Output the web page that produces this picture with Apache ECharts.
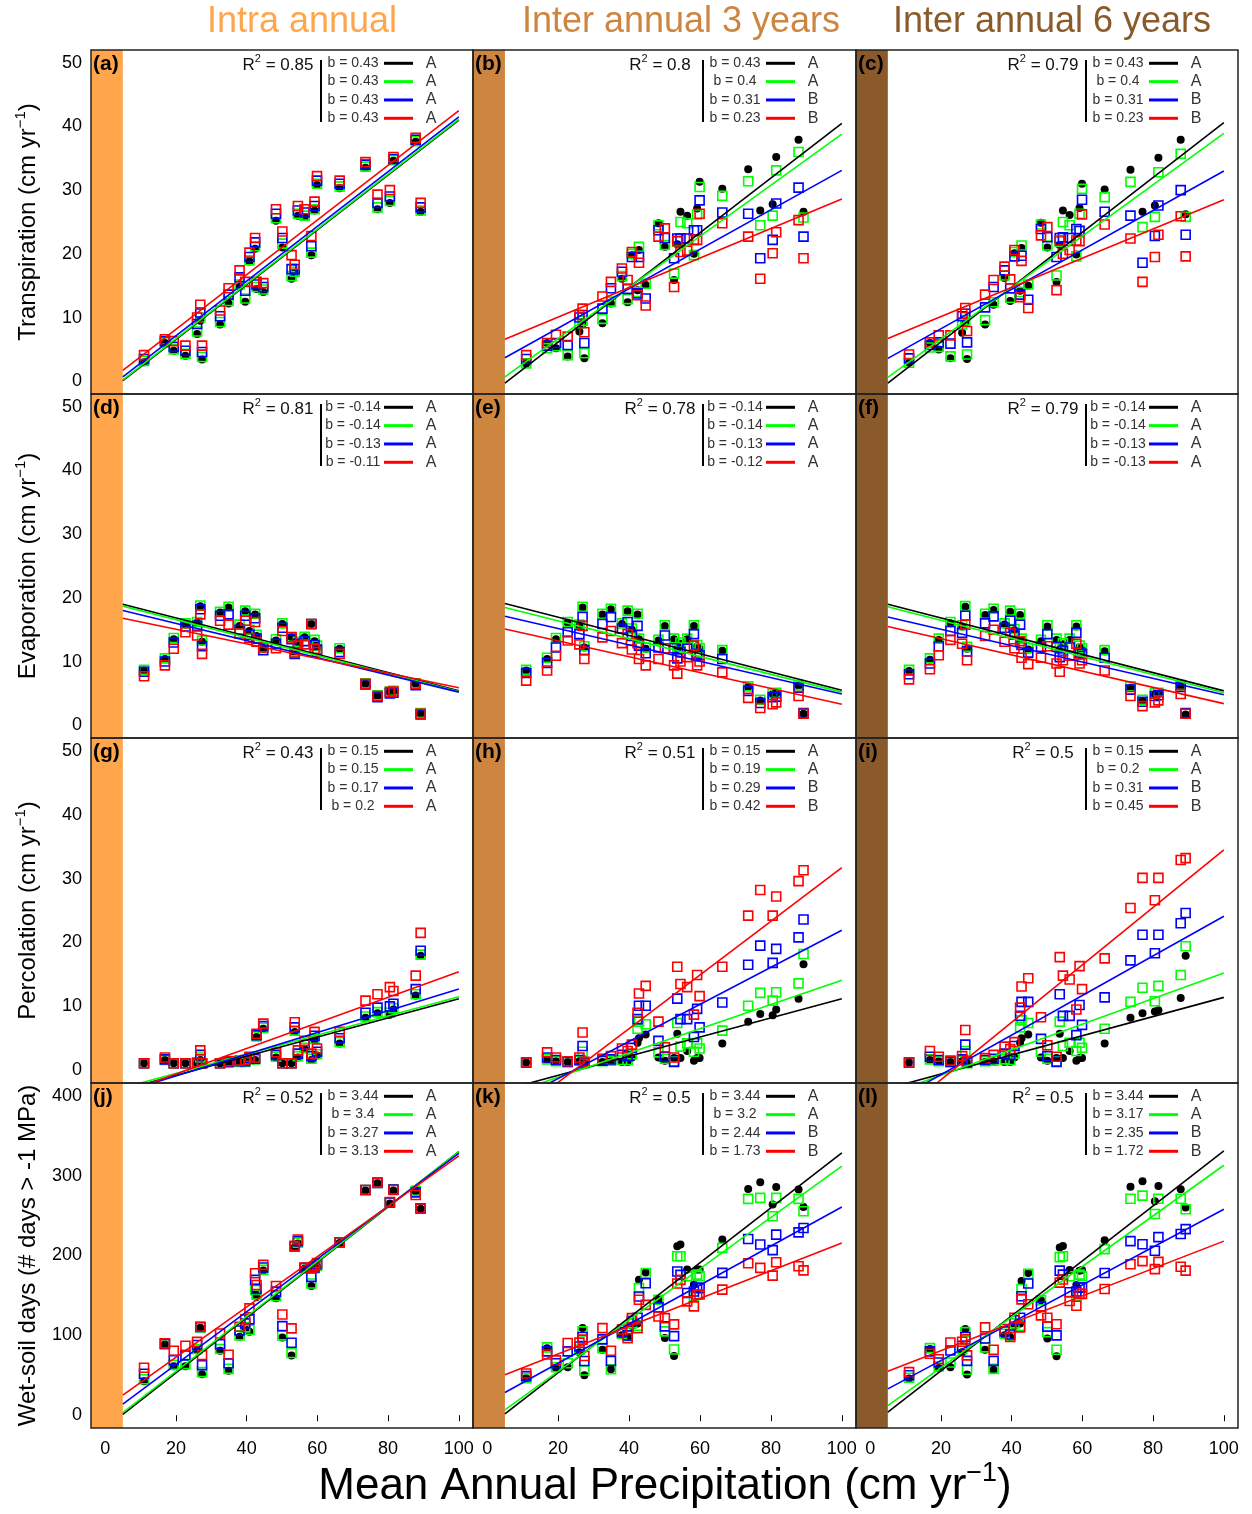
<!DOCTYPE html>
<html><head><meta charset="utf-8">
<script src="https://cdn.jsdelivr.net/npm/echarts@6/dist/echarts.min.js"></script>
<style>html,body{margin:0;padding:0;background:#fff}#chart{width:1252px;height:1514px}</style>
</head><body><div id="chart"></div>
<script>
// ---------------- DATA ----------------
// Mean annual precipitation of the sites (cm/yr), shared by all panels
const X_SITES = [11.0,16.9,19.4,22.7,26.0,26.9,27.4,32.5,34.9,38.0,39.6,40.8,42.4,42.8,44.7,48.3,50.1,52.7,53.6,54.5,56.4,58.3,59.2,59.9,66.3,73.6,77.0,80.5,81.5,87.8,89.2];
const XTICKS = [0,20,40,60,80,100];
const YTICKS_CM = [0,10,20,30,40,50];
const YTICKS_DAYS = [0,100,200,300,400];
const COL_TITLES = ['Intra annual','Inter annual 3 years','Inter annual 6 years'];
const ROW_TITLES = ['Transpiration','Evaporation','Percolation','Wet-soil days (# days > -1 MPa)'];
const X_TITLE = 'Mean Annual Precipitation (cm yr';
const PANEL_LABELS = ['(a)','(b)','(c)','(d)','(e)','(f)','(g)','(h)','(i)','(j)','(k)','(l)'];
const R2 = ['0.85','0.8','0.79','0.81','0.78','0.79','0.43','0.51','0.5','0.52','0.5','0.5'];
const SLOPES = [
  ['0.43','0.43','0.43','0.43'],['0.43','0.4','0.31','0.23'],['0.43','0.4','0.31','0.23'],
  ['-0.14','-0.14','-0.13','-0.11'],['-0.14','-0.14','-0.13','-0.12'],['-0.14','-0.14','-0.13','-0.13'],
  ['0.15','0.15','0.17','0.2'],['0.15','0.19','0.29','0.42'],['0.15','0.2','0.31','0.45'],
  ['3.44','3.4','3.27','3.13'],['3.44','3.2','2.44','1.73'],['3.44','3.17','2.35','1.72']
];
const GROUPS = [
  ['A','A','A','A'],['A','A','B','B'],['A','A','B','B'],
  ['A','A','A','A'],['A','A','A','A'],['A','A','A','A'],
  ['A','A','A','A'],['A','A','B','B'],['A','A','B','B'],
  ['A','A','A','A'],['A','A','B','B'],['A','A','B','B']
];
// Regression line values at MAP = 5 and MAP = 100, order: black, green, blue, red
const LINE_AT = [5, 100];
const a_lines = [[0.1,41.0],[0.2,41.1],[0.7,41.5],[1.7,42.5]];
const b_lines = [[-0.3,40.5],[0.7,38.8],[3.7,33.1],[6.6,28.6]];
const c_lines = [[-0.3,40.6],[0.6,38.9],[3.6,33.0],[6.7,28.5]];
const d_lines = [[19.0,5.4],[18.7,5.3],[18.0,5.2],[16.8,5.9]];
const e_lines = [[19.1,5.5],[18.5,5.2],[17.1,4.9],[15.1,3.3]];
const f_lines = [[19.0,5.4],[18.6,5.1],[17.0,4.8],[15.5,3.4]];
const g_lines = [[-3.05,11.2],[-2.75,11.5],[-3.45,12.7],[-3.6,15.4]];
const h_lines = [[-3.05,11.2],[-3.95,14.1],[-5.65,21.9],[-8.2,31.7]];
const i_lines = [[-2.85,11.4],[-3.8,15.2],[-5.35,24.1],[-8.25,34.5]];
const j_lines = [[1.2,330],[3.3,330],[13.9,328],[25.1,324.7]];
const k_lines = [[1.7,328.5],[6.7,311.8],[28.4,260.8],[50.6,215.6]];
const l_lines = [[4,331],[12,313],[33,258],[55,218]];

// Transpiration
const a_black = [3.0,6.0,4.8,4.0,7.4,9.5,3.4,8.9,12.2,14.8,12.5,18.8,20.8,14.5,14.0,25.2,21.0,16.1,17.0,26.0,25.8,19.8,26.8,30.8,30.3,33.5,27.0,28.0,34.6,37.6,26.6];
const a_green = [3.2,6.1,5.0,4.3,7.8,10.0,3.8,9.3,12.6,15.2,13.0,19.0,21.2,14.8,14.4,25.6,21.6,16.5,17.2,26.3,26.0,20.2,27.0,31.0,30.6,33.7,27.3,28.3,34.7,37.7,26.8];
const a_blue  = [3.5,6.3,5.4,4.8,9.0,10.8,4.6,10.2,13.6,16.3,14.2,19.5,21.8,15.2,14.8,26.3,22.5,17.6,17.6,26.8,26.5,21.2,27.5,31.5,31.0,34.0,28.0,29.0,34.9,37.9,27.3];
const a_red   = [4.1,6.6,6.3,5.6,10.0,12.0,5.6,11.1,14.6,17.4,15.6,20.2,22.5,15.6,15.4,27.0,23.5,19.8,18.3,27.5,27.0,22.8,28.2,32.2,31.5,34.4,29.3,30.0,35.2,38.2,28.0];
const b_black = [2.8,6.0,5.2,3.9,7.8,9.0,3.6,9.1,12.2,16.1,12.4,19.8,14.3,20.6,15.1,24.8,21.1,15.9,21.5,26.6,26.0,20.0,27.1,31.3,30.2,33.3,26.8,27.8,35.2,37.9,26.6];
const b_green = [2.8,5.2,5.5,4.1,9.1,9.5,4.4,9.8,12.5,16.5,12.9,20.0,14.0,21.1,15.3,24.5,21.4,16.9,22.0,25.0,24.8,19.8,26.2,30.5,29.1,31.4,24.5,26.0,33.1,36.0,25.7];
const b_blue  = [3.5,5.6,6.0,5.7,10.0,10.4,6.0,11.4,14.6,17.2,14.5,19.5,13.8,19.5,13.0,23.7,22.5,19.3,22.4,22.4,22.4,23.7,23.7,28.4,26.5,26.3,19.3,22.2,27.9,30.4,22.7];
const b_red   = [4.1,6.0,7.3,7.0,10.4,11.4,7.7,13.3,15.6,17.7,15.9,20.3,13.5,18.6,11.9,22.7,24.0,14.8,22.0,20.3,20.5,22.2,22.2,26.3,24.8,22.7,16.1,20.1,23.4,25.3,19.3];
const c_black = [2.9,6.0,5.0,3.6,7.6,9.2,3.5,8.9,12.0,16.2,12.6,20.1,14.2,20.9,15.0,24.9,21.0,15.6,21.4,26.8,26.1,19.9,27.2,31.0,30.1,33.2,26.6,27.6,35.1,37.9,26.2];
const c_green = [2.9,5.3,5.4,3.9,8.9,9.6,4.2,9.6,12.4,16.6,13.1,20.3,14.0,21.3,15.2,24.6,21.3,16.6,21.9,25.0,24.5,19.6,26.3,30.2,28.9,31.3,24.2,25.8,32.8,35.7,25.8];
const c_blue  = [3.6,5.7,6.1,5.9,10.2,10.6,6.1,11.6,14.8,17.4,14.6,19.6,13.6,19.7,12.8,23.9,22.6,19.5,22.5,22.6,22.5,23.9,23.6,28.5,26.6,26.0,18.6,22.8,27.6,30.0,23.0];
const c_red   = [4.2,6.1,7.2,7.2,10.6,11.5,7.9,13.6,15.9,18.0,16.0,20.6,13.2,18.9,11.5,22.9,24.2,14.3,22.1,20.0,20.6,22.1,22.0,26.2,24.6,22.4,15.6,19.5,23.0,25.9,19.6];
// Evaporation
const d_black = [8.6,10.4,13.5,15.9,16.1,18.7,13.1,17.7,18.5,15.6,17.9,14.8,17.4,14.0,12.0,13.3,15.9,13.8,11.4,13.0,13.8,15.9,13.2,12.3,12.0,6.5,4.6,5.2,5.3,6.5,1.8];
const d_green = [8.7,10.5,13.7,16.0,16.2,18.8,13.3,17.8,18.6,15.8,18.0,15.0,17.5,14.2,12.2,13.5,16.0,13.9,11.6,13.1,13.9,15.9,13.4,12.5,12.1,6.6,4.7,5.3,5.4,6.6,1.9];
const d_blue  = [8.4,10.0,13.0,15.5,15.6,18.2,12.4,17.2,17.4,15.0,17.2,14.2,16.8,13.6,11.8,12.8,15.3,13.5,11.2,12.8,13.2,15.9,12.6,11.9,11.5,6.4,4.4,5.0,5.1,6.3,1.7];
const d_red   = [7.7,9.4,12.0,14.6,14.1,17.4,11.2,16.4,15.8,14.4,16.4,13.7,16.2,13.1,12.2,12.1,14.8,13.8,11.4,12.5,12.7,15.9,12.0,11.5,11.2,6.5,4.6,5.2,5.3,6.5,1.8];
const e_black = [8.6,10.4,13.5,16.1,15.6,18.5,12.2,17.4,18.2,15.9,17.9,15.0,17.4,13.5,12.0,13.3,15.6,13.5,12.0,12.8,13.5,15.6,12.4,12.0,11.7,6.0,3.9,4.9,5.0,6.2,1.8];
const e_green = [8.7,10.6,13.7,16.2,15.8,18.6,12.4,17.5,18.3,16.0,18.0,15.2,17.5,13.6,12.2,13.4,15.7,13.6,12.2,13.0,13.6,15.7,12.6,12.1,11.8,6.1,4.0,5.0,5.1,6.3,1.8];
const e_blue  = [8.2,9.8,12.2,14.6,14.3,17.0,11.8,15.9,17.0,15.2,16.2,14.0,15.6,12.5,11.3,12.2,14.1,12.1,10.5,11.5,12.0,14.3,11.2,11.0,10.4,5.4,3.5,4.4,4.5,5.9,1.9];
const e_red   = [7.0,8.6,10.9,13.3,12.7,15.6,10.4,13.8,14.8,12.9,14.3,11.9,12.9,10.4,9.4,10.4,12.1,9.4,8.1,10.0,10.7,12.5,9.4,10.0,8.3,4.3,2.7,3.3,3.6,4.6,1.8];
const f_black = [8.5,10.3,13.4,16.0,15.5,18.6,12.0,17.3,18.1,15.8,17.8,14.9,17.3,13.4,11.9,13.2,15.5,13.4,11.9,12.7,13.4,15.5,12.3,11.9,11.6,5.9,3.8,4.8,4.9,6.1,1.7];
const f_green = [8.7,10.5,13.6,16.2,15.7,18.7,12.3,17.5,18.3,16.0,18.0,15.1,17.5,13.6,12.1,13.4,15.7,13.6,12.1,12.9,13.6,15.7,12.5,12.1,11.8,6.1,4.0,5.0,5.1,6.3,1.8];
const f_blue  = [8.0,9.7,12.4,14.8,14.5,17.2,11.6,16.0,17.1,15.3,16.4,14.2,15.8,12.6,11.4,12.3,14.3,12.3,10.7,11.7,12.2,14.5,11.4,11.2,10.6,5.6,3.7,4.6,4.7,6.0,1.9];
const f_red   = [7.2,8.8,11.0,13.4,12.8,15.8,10.2,14.0,15.0,13.1,14.5,12.1,13.2,10.6,9.6,10.6,12.4,9.7,8.4,10.2,10.9,12.8,9.7,10.2,8.6,4.6,3.0,3.6,3.9,4.9,1.8];
// Percolation
const g_black = [1.1,1.6,1.1,1.1,1.1,1.6,1.1,1.1,1.2,1.3,1.3,1.6,1.6,5.2,6.5,2.0,1.1,1.1,6.0,2.0,3.3,1.6,4.7,2.3,4.2,8.2,8.9,8.7,9.5,11.7,17.9];
const g_green = [1.1,1.6,1.1,1.1,1.1,2.0,1.1,1.1,1.2,1.3,1.3,1.7,1.7,5.3,6.6,2.1,1.1,1.1,6.2,2.2,3.5,1.8,4.9,2.5,4.4,8.4,9.1,9.0,9.7,11.9,18.1];
const g_blue  = [1.1,1.7,1.1,1.1,1.1,2.4,1.1,1.1,1.3,1.4,1.4,1.9,1.8,5.5,6.9,2.4,1.1,1.1,6.7,2.6,4.0,2.2,5.4,2.9,5.0,9.0,9.8,10.0,10.4,12.7,18.7];
const g_red   = [1.1,2.0,1.1,1.1,1.2,3.1,1.1,1.1,1.4,1.5,1.6,2.1,2.0,5.7,7.3,2.8,1.1,1.1,7.5,3.1,4.6,2.6,6.0,3.4,6.0,10.9,11.9,13.0,12.4,14.8,21.5];
const h_black = [1.2,1.6,1.4,1.3,1.4,1.8,1.1,1.3,1.4,1.3,1.3,2.0,4.3,5.0,5.6,2.0,1.5,1.9,5.7,1.9,3.0,1.5,1.9,1.9,4.2,7.6,8.8,8.6,9.5,11.2,16.6];
const h_green = [1.2,1.7,1.4,1.3,1.5,2.9,1.1,1.4,1.5,1.6,1.6,2.5,6.5,7.6,7.2,2.8,1.8,1.4,7.4,3.7,4.2,2.9,4.2,3.4,6.2,10.1,12.1,10.9,12.2,13.6,18.2];
const h_blue  = [1.2,2.0,1.6,1.3,1.6,3.8,1.2,1.5,1.7,2.4,2.2,3.5,8.0,10.1,10.1,4.6,2.1,1.3,11.2,8.0,8.0,5.2,9.6,6.7,10.6,16.5,19.5,16.8,19.0,20.8,23.6];
const h_red   = [1.2,2.8,2.0,1.4,2.0,5.9,1.3,1.8,2.2,3.4,3.0,4.0,9.0,12.0,13.2,7.6,3.6,2.0,16.2,13.5,13.0,8.7,14.9,11.6,16.2,24.2,28.2,24.2,27.2,29.6,31.3];
const i_black = [1.2,1.6,1.4,1.3,1.4,1.8,1.1,1.3,1.4,1.3,1.3,2.0,4.3,5.0,5.6,2.0,1.5,1.9,5.7,1.9,3.0,1.5,1.9,1.9,4.2,8.2,8.9,9.2,9.4,11.3,17.9];
const i_green = [1.2,1.7,1.4,1.3,1.5,3.0,1.1,1.4,1.5,1.7,1.6,2.6,6.7,7.8,7.4,2.9,1.8,1.4,7.6,3.8,4.3,3.0,4.3,3.5,6.5,10.7,12.9,10.8,13.2,14.9,19.4];
const i_blue  = [1.2,2.1,1.6,1.3,1.7,4.0,1.2,1.6,1.8,2.6,2.4,3.8,8.5,10.7,10.7,4.9,2.2,1.3,11.9,8.5,8.5,5.5,10.2,7.1,11.4,17.2,21.2,18.3,21.2,23.0,24.6];
const i_red   = [1.2,3.0,2.1,1.5,2.2,6.3,1.4,1.9,2.4,3.7,3.3,4.4,9.8,13.1,14.4,8.3,3.9,2.1,17.7,14.8,14.2,9.5,16.3,12.7,17.5,25.4,30.1,26.6,30.1,32.9,33.2];
// Wet-soil days
const j_black = [42.6,88.5,61.4,61.4,81.5,109.5,51.4,80.7,55.6,98.3,108,104.6,152.7,148,181.1,146.4,97.4,74.8,210.8,215,183.5,161.9,183,186,215.5,281.5,290.5,265,281.5,280,258.5];
const j_green = [45,89,63,64,83,110,54,83,58,100,110,107,157,151,182,149,100,78,211,216,184,165,184,187,216,282,291,266,283,281,259];
const j_blue  = [52,89.4,69,75,88,110.5,62.7,89,65,106,115,120,169.5,158,185,154.8,111.6,90.7,211.5,218,184.5,173.2,185,189,216.5,282,291,266.5,282.5,279,259];
const j_red   = [59.5,90,80.7,86.9,91.9,110.8,75.3,102.4,75.7,110.8,120,133.8,177.8,163,188.2,161.9,126.2,108.7,212,220,185,183.9,186.4,190.6,216.6,282.1,291.3,267,282.1,275.8,258.8];
const k_black = [46.4,83.9,58.8,60,78.7,109.1,50.2,81.9,57.5,100,98,112,115,169.5,178.7,144.5,96.6,74.1,211.7,213.8,182.4,163.6,182.4,182.4,220,283.4,291.8,263.8,285.9,282.6,260.8];
const k_green = [46.4,85,60,65,82,105,56,84,57.5,102,100,115,112,159.1,178,144.5,105,82.3,199.1,199.1,174,148.9,176.1,174,209.6,270.9,272.1,249.2,272.1,270.9,255.4];
const k_blue  = [49,80,65,80,86,98,67.9,95,67.9,104,100,118,122,148.6,165.3,135,111.2,99.1,180,175.8,153.1,155,160,159.2,178.2,220.6,213.8,206.7,226.1,229,234.5];
const k_red   = [52.3,76.1,68.7,90.5,90.9,94.7,74.1,109.1,80.7,107.4,96.6,121.6,109.1,144.5,138.2,123.7,121.6,113.7,165,169.5,142.6,136.3,151.1,151.1,157.3,190.3,184.5,174.8,191.5,186.5,181.4];
const l_black = [46,83,59,60,79,108,51,82,57,100,98,112,115,168,178,144,96,74,210,212,182,163,181,182,219,286,293,268,287,283,260];
const l_green = [47,84,61,66,83,104,57,85,58,102,100,115,112,158,177,144,104,82,198,199,174,149,176,174,208,271,275,252,271,271,258];
const l_blue  = [50,80,66,81,87,98,68,96,68,105,101,119,122,149,165,136,111,100,181,176,154,155,160,160,178,218,214,206,223,227,233];
const l_red   = [54,77,70,91,92,95,75,110,82,108,98,122,110,145,139,125,122,114,166,170,143,137,152,152,158,189,193,183,192,186,181];

// ---------------- LAYOUT / STYLE ----------------
const FONT = "'Liberation Sans', Arial, Helvetica, sans-serif";
const GL = [91, 473, 856], GW = [382, 383, 382];
const GT = [50, 394, 738, 1083], GH = [344, 344, 345, 345];
const SER_COLORS = ['#000000', '#00FF00', '#0000FF', '#FF0000'];
const BAND_COLORS = ['#FFA64D', '#CD853F', '#8B5A2B'];

const PANELS = [
  [[a_black,a_green,a_blue,a_red], a_lines],
  [[b_black,b_green,b_blue,b_red], b_lines],
  [[c_black,c_green,c_blue,c_red], c_lines],
  [[d_black,d_green,d_blue,d_red], d_lines],
  [[e_black,e_green,e_blue,e_red], e_lines],
  [[f_black,f_green,f_blue,f_red], f_lines],
  [[g_black,g_green,g_blue,g_red], g_lines],
  [[h_black,h_green,h_blue,h_red], h_lines],
  [[i_black,i_green,i_blue,i_red], i_lines],
  [[j_black,j_green,j_blue,j_red], j_lines],
  [[k_black,k_green,k_blue,k_red], k_lines],
  [[l_black,l_green,l_blue,l_red], l_lines]
];

const grids = [], xAxes = [], yAxes = [], series = [], gfx = [];

function txt(x, y, text, st, extra) {
  return Object.assign({
    type: 'text', x: x, y: y, z: 120, silent: true,
    style: Object.assign({
      text: text, fill: '#000', fontFamily: FONT, fontSize: 14,
      align: 'center', verticalAlign: 'middle',
      textAlign: 'center', textVerticalAlign: 'middle'
    }, st)
  }, extra || {});
}

for (let p = 0; p < 12; p++) {
  const r = Math.floor(p / 3), c = p % 3;
  const isDays = r === 3;
  const ymin = isDays ? -16 : -2, ymax = isDays ? 416 : 52;
  const yt = isDays ? YTICKS_DAYS : YTICKS_CM;
  grids.push({ left: GL[c], top: GT[r], width: GW[c], height: GH[r], containLabel: false, show: false });
  xAxes.push({
    gridIndex: p, type: 'value', min: -4, max: 104,
    axisLine: { show: false }, splitLine: { show: false },
    axisTick: { show: r === 3, customValues: XTICKS, length: 6, lineStyle: { color: '#000', width: 1 } },
    axisLabel: { show: r === 3, customValues: XTICKS, fontSize: 18, color: '#000', fontFamily: FONT, margin: 12 }
  });
  yAxes.push({
    gridIndex: p, type: 'value', min: ymin, max: ymax,
    axisLine: { show: false }, splitLine: { show: false },
    axisTick: { show: true, customValues: yt, length: 6, lineStyle: { color: '#000', width: 1 } },
    axisLabel: { show: c === 0, customValues: yt, fontSize: 18, color: '#000', fontFamily: FONT, margin: 9 }
  });

  const pts = PANELS[p][0], lines = PANELS[p][1];
  // points
  for (let s = 0; s < 4; s++) {
    const data = X_SITES.map((x, i) => [x, pts[s][i]]);
    const ser = {
      type: 'scatter', xAxisIndex: p, yAxisIndex: p, data: data, silent: true, z: 2,
      symbol: s === 0 ? 'circle' : 'rect', symbolSize: s === 0 ? 8 : 9,
      itemStyle: s === 0 ? { color: '#000', opacity: 1 } : { color: 'rgba(0,0,0,0)', borderColor: SER_COLORS[s], borderWidth: 1.6, opacity: 1 }
    };
    if (s === 0) {
      ser.markArea = {
        silent: true, itemStyle: { color: BAND_COLORS[c], opacity: 1, borderWidth: 0 },
        data: [[{ coord: [-4, ymin] }, { coord: [5, ymax] }]]
      };
    }
    series.push(ser);
  }
  // regression lines
  for (let s = 0; s < 4; s++) {
    series.push({
      type: 'line', xAxisIndex: p, yAxisIndex: p, silent: true, z: 3,
      data: [[LINE_AT[0], lines[s][0]], [LINE_AT[1], lines[s][1]]],
      symbol: 'none', clip: true,
      lineStyle: { color: SER_COLORS[s], width: 1.6, opacity: 1 }
    });
  }

  // frame
  const px = GL[c], py = GT[r];
  gfx.push({ type: 'rect', z: 100, silent: true,
    shape: { x: px, y: py, width: GW[c], height: GH[r] },
    style: { fill: 'none', stroke: '#222', lineWidth: 1.5 } });
  // panel label
  gfx.push(txt(px + 2, py + 14, PANEL_LABELS[p], { fontSize: 21, fontWeight: 'bold', align: 'left', textAlign: 'left' }));
  // R^2
  gfx.push(txt(px + 187, py + 15, '{r|R}{s|2}{r| = ' + R2[p] + '}', {
    rich: {
      r: { fontSize: 17, fontFamily: FONT, fill: '#111', lineHeight: 24 },
      s: { fontSize: 11, fontFamily: FONT, fill: '#111', lineHeight: 10, verticalAlign: 'top' }
    }
  }));
  // legend bar
  gfx.push({ type: 'line', z: 110, silent: true,
    shape: { x1: px + 230, y1: py + 10, x2: px + 230, y2: py + 72 },
    style: { stroke: '#000', lineWidth: 2 } });
  for (let s = 0; s < 4; s++) {
    const ty = py + 13.3 + 18.33 * s;
    gfx.push(txt(px + 262, ty, 'b = ' + SLOPES[p][s], { fontSize: 14, fill: '#333' }));
    gfx.push({ type: 'line', z: 110, silent: true,
      shape: { x1: px + 293, y1: ty, x2: px + 322, y2: ty },
      style: { stroke: SER_COLORS[s], lineWidth: 3 } });
    gfx.push(txt(px + 340, ty, GROUPS[p][s], { fontSize: 16, fill: '#333' }));
  }
}

// column titles
const colCenters = [302, 681, 1052];
for (let c = 0; c < 3; c++) {
  gfx.push(txt(colCenters[c], 22, COL_TITLES[c], { fontSize: 36, fill: BAND_COLORS[c] }));
}
// row titles (rotated)
for (let r = 0; r < 4; r++) {
  const cy = GT[r] + GH[r] / 2;
  const t = r === 3 ? '{a|' + ROW_TITLES[r] + '}' : '{a|' + ROW_TITLES[r] + ' (cm yr}{s|\u22121}{a|)}';
  gfx.push(txt(28, cy, t, {
    rich: {
      a: { fontSize: 24, fontFamily: FONT, fill: '#000', lineHeight: 30 },
      s: { fontSize: 15, fontFamily: FONT, fill: '#000', lineHeight: 14, verticalAlign: 'top' }
    }
  }, { rotation: Math.PI / 2 }));
}
// x title
gfx.push(txt(665, 1487, '{a|' + X_TITLE + '}{s|\u22121}{a|)}', {
  rich: {
    a: { fontSize: 44, fontFamily: FONT, fill: '#000', lineHeight: 54 },
    s: { fontSize: 27, fontFamily: FONT, fill: '#000', lineHeight: 26, verticalAlign: 'top' }
  }
}));

const chart = echarts.init(document.getElementById('chart'), null, { renderer: 'canvas' });
chart.setOption({
  animation: false,
  backgroundColor: '#fff',
  grid: grids, xAxis: xAxes, yAxis: yAxes, series: series,
  graphic: { elements: gfx }
});
</script></body></html>
